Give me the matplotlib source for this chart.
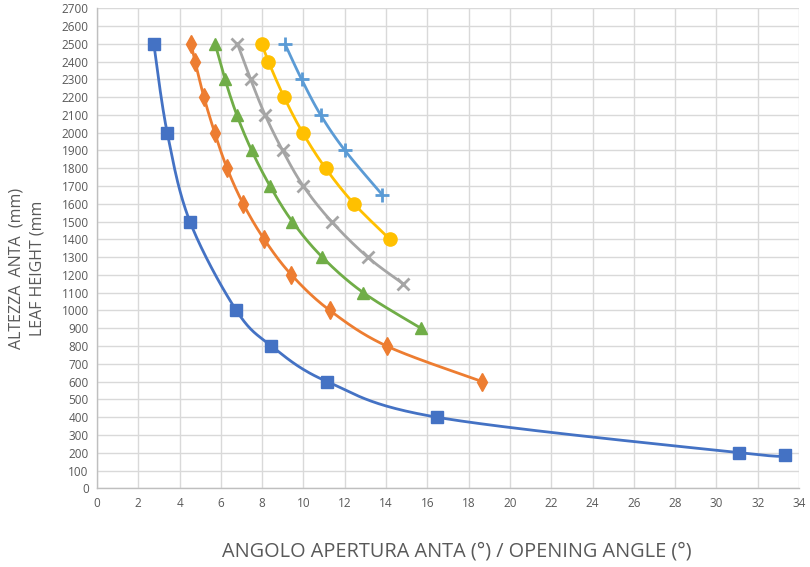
import numpy as np
import matplotlib
matplotlib.use("Agg")
import matplotlib.pyplot as plt

# ---- data ----
s1_x = [2.75, 3.4, 4.5, 6.75, 8.45, 11.15, 16.45, 31.1, 33.3]
s1_y = [2500, 2000, 1500, 1000, 800, 600, 400, 200, 185]

s2_x = [4.55, 4.75, 5.18, 5.7, 6.3, 7.08, 8.1, 9.42, 11.28, 14.03, 18.66]
s2_y = [2500, 2400, 2200, 2000, 1800, 1600, 1400, 1200, 1000, 800, 600]

s3_x = [5.72, 6.2, 6.77, 7.49, 8.38, 9.46, 10.91, 12.9, 15.69]
s3_y = [2500, 2300, 2100, 1900, 1700, 1500, 1300, 1100, 900]

s4_x = [6.8, 7.44, 8.14, 8.99, 9.99, 11.36, 13.11, 14.83]
s4_y = [2500, 2300, 2100, 1900, 1700, 1500, 1300, 1150]

s5_x = [7.97, 8.3, 9.06, 9.96, 11.07, 12.45, 14.19]
s5_y = [2500, 2400, 2200, 2000, 1800, 1600, 1400]

s6_x = [9.1, 9.91, 10.83, 12.01, 13.82]
s6_y = [2500, 2300, 2100, 1900, 1650]

x_ticks = list(range(0, 35, 2))
y_ticks = list(range(0, 2701, 100))

x_label = "ANGOLO APERTURA ANTA (°) / OPENING ANGLE (°)"
y_label = "ALTEZZA  ANTA  (mm)\nLEAF HEIGHT (mm"

series = [
    (s1_x, s1_y, "#4472C4", "s", 8, 1.0),
    (s2_x, s2_y, "#ED7D31", "d", 9, 1.0),
    (s3_x, s3_y, "#70AD47", "^", 9, 1.0),
    (s4_x, s4_y, "#A5A5A5", "x", 9, 2.0),
    (s5_x, s5_y, "#FFC000", "o", 9.5, 1.0),
    (s6_x, s6_y, "#5B9BD5", "+", 10, 2.0),
]

plt.rcParams['font.family'] = ['Open Sans', 'DejaVu Sans']

fig = plt.figure(figsize=(8.1, 5.67), dpi=100)
W, H = 810, 567
ax = fig.add_axes([97 / W, 1 - 488.3 / H, (799 - 97) / W, (488.3 - 8.2) / H])
ax.set_xlim(0, 34)
ax.set_ylim(0, 2700)
ax.set_xticks(x_ticks)
ax.set_yticks(y_ticks)
ax.grid(True, color="#D9D9D9", linewidth=1.0)
ax.set_axisbelow(True)
for side in ["top", "right"]:
    ax.spines[side].set_visible(False)
for side in ["left", "bottom"]:
    ax.spines[side].set_color("#BFBFBF")
    ax.spines[side].set_linewidth(1.0)
ax.tick_params(length=0, labelsize=8.5, labelcolor="#595959", pad=6)


def smooth(xs, ys, n=30):
    pts = ax.transData.transform(np.column_stack([xs, ys]))
    P = np.vstack([pts[0], pts, pts[-1]])
    out = []
    for i in range(1, len(P) - 2):
        p0, p1, p2, p3 = P[i - 1], P[i], P[i + 1], P[i + 2]
        c1 = p1 + (p2 - p0) / 6.0
        c2 = p2 - (p3 - p1) / 6.0
        t = np.linspace(0, 1, n)[:, None]
        seg = ((1 - t) ** 3) * p1 + 3 * ((1 - t) ** 2) * t * c1 + 3 * (1 - t) * t ** 2 * c2 + t ** 3 * p2
        out.append(seg if i == 1 else seg[1:])
    out = np.vstack(out)
    d = ax.transData.inverted().transform(out)
    return d[:, 0], d[:, 1]


for xs, ys, col, mk, ms, mew in series:
    sx, sy = smooth(xs, ys)
    ax.plot(sx, sy, color=col, linewidth=2.0, zorder=3, solid_capstyle="round")
    ax.plot(xs, ys, linestyle="none", marker=mk, markersize=ms, color=col,
            markeredgecolor=col, markeredgewidth=mew, zorder=4)

fig.text(457 / W, 1 - 551 / H, x_label, ha="center", va="center",
         fontsize=14.3, color="#595959")
fig.text(27 / W, 1 - 268 / H, y_label, ha="center", va="center", rotation=90,
         fontsize=11.5, color="#595959", linespacing=1.45)

fig.savefig("out.png", dpi=100)
